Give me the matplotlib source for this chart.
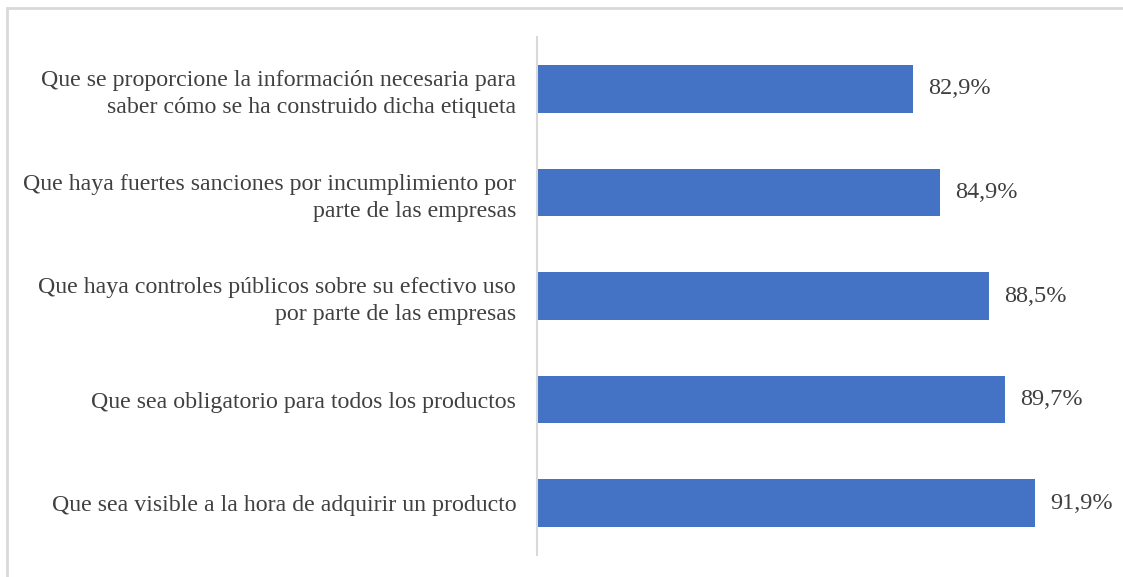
import matplotlib
matplotlib.use("Agg")
import matplotlib.pyplot as plt
from matplotlib.patches import Rectangle

categories = [
    "Que se proporcione la información necesaria para\nsaber cómo se ha construido dicha etiqueta",
    "Que haya fuertes sanciones por incumplimiento por\nparte de las empresas",
    "Que haya controles públicos sobre su efectivo uso\npor parte de las empresas",
    "Que sea obligatorio para todos los productos",
    "Que sea visible a la hora de adquirir un producto",
]
values = [82.9, 84.9, 88.5, 89.7, 91.9]
value_labels = ["82,9%", "84,9%", "88,5%", "89,7%", "91,9%"]

plt.rcParams['font.family'] = ['Liberation Serif', 'DejaVu Serif']

W, H = 1123, 577
fig = plt.figure(figsize=(W / 100, H / 100), dpi=100)
ax = fig.add_axes([537 / W, 1 - 555 / H, (1110 - 537) / W, (555 - 37) / H])

y = list(range(len(categories)))
ax.barh(y, values, height=0.46, color="#4472C4", left=0)
ax.set_xlim(55.16, 97.43)
ax.set_ylim(len(categories) - 0.5, -0.5)
ax.set_yticks(y)
ax.set_yticklabels(categories, fontsize=17.2, color="#404040", linespacing=1.35)
ax.tick_params(axis="y", length=0, pad=15)
ax.set_xticks([])
for s in ["top", "right", "bottom"]:
    ax.spines[s].set_visible(False)
ax.spines["left"].set_color("#d9d9d9")
ax.spines["left"].set_linewidth(1.5)
for yi, v, lab in zip(y, values, value_labels):
    ax.annotate(lab, (v, yi), xytext=(15, 0), textcoords="offset pixels",
                va="center", ha="left", fontsize=17.5, color="#404040")

fig.patches.append(Rectangle((7 / W, -0.1), 1.2, 1 - 8 / H + 0.1, transform=fig.transFigure,
                             fill=False, edgecolor="#d9d9d9", linewidth=2))
fig.savefig("out.png", dpi=100)
